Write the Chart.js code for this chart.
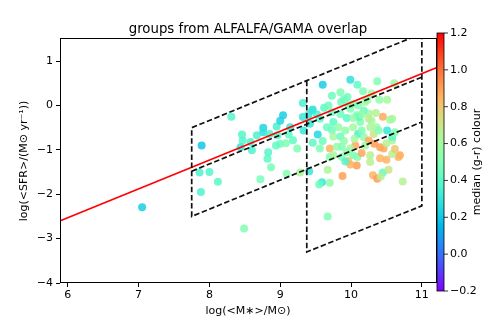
<!DOCTYPE html>
<html><head><meta charset="utf-8">
<script src="https://cdn.jsdelivr.net/npm/chart.js@4.4.1/dist/chart.umd.min.js"></script>
<style>html,body{margin:0;padding:0;background:#fff;overflow:hidden}#wrap{position:relative;width:485px;height:323px}canvas{display:block}</style>
</head><body><div id="wrap"><canvas id="c" width="485" height="323" style="width:485px;height:323px"></canvas></div>
<script>
// ---- data ----
const massX = [7.05,7.89,7.86,8.00,8.12,7.88,8.31,8.46,8.47,8.44,8.60,8.67,8.76,8.76,8.85,8.83,8.82,8.87,8.72,8.95,8.96,9.00,9.04,9.00,8.94,9.08,9.12,9.09,9.24,9.28,9.32,9.32,8.49,9.14,
9.60,9.99,10.09,10.37,10.61,9.73,10.17,10.29,9.86,9.95,10.40,10.51,10.58,10.45,10.35,10.25,10.18,10.08,9.99,10.03,10.10,9.85,9.94,9.73,9.75,9.56,9.45,9.42,9.53,9.33,9.73,9.82,9.92,10.03,10.10,10.06,9.99,10.18,10.25,10.33,10.41,10.46,10.32,10.36,10.51,10.58,10.69,10.67,10.58,10.27,10.41,10.50,10.08,9.87,9.70,9.56,9.46,9.70,9.80,9.87,9.94,10.09,10.03,10.15,9.96,9.99,9.92,9.88,9.75,10.31,10.37,10.45,10.42,10.53,10.73,10.27,9.41,9.67,9.59,9.55,9.70,9.67,9.62,9.52,9.40,9.46,9.66,10.13,10.15,10.27,10.39,10.58,10.55,9.75,10.20,10.29,10.11,9.90,10.62,
9.96,10.23,10.03,9.85,9.90,10.20,10.50,10.62,9.60,10.15,10.25,10.05,9.68,9.85,8.58,9.18];
const sfrY = [-2.29,-0.90,-1.51,-1.50,-1.72,-1.95,-0.25,-0.65,-0.79,-0.94,-1.01,-0.67,-0.50,-0.60,-0.64,-1.05,-1.20,-1.39,-1.66,-0.47,-0.67,-0.34,-0.22,-0.86,-0.90,-0.85,-0.65,-1.54,-0.97,-1.51,-0.26,0.06,-2.77,-0.49,
0.47,0.58,0.47,0.55,0.50,0.22,0.32,0.27,0.08,0.19,0.13,0.13,-0.30,-0.25,-0.17,-0.18,-0.11,-0.22,-0.07,0.04,0.00,-0.19,-0.28,-0.15,-0.37,-0.30,-0.11,-0.41,-0.65,-0.56,-0.55,-0.49,-0.56,-0.49,-0.64,-0.90,-0.97,-0.71,-0.79,-0.86,-0.94,-0.97,-0.64,-0.49,-0.56,-0.79,-1.12,-1.16,-1.09,-1.12,-1.19,-1.22,-1.35,-1.16,-1.16,-0.97,-0.84,-0.97,-0.93,-0.93,-1.05,-1.16,-1.12,-1.07,-1.25,-1.33,-1.26,-1.59,-1.12,-1.57,-1.65,-1.51,-1.60,-1.45,-1.71,-1.27,-1.48,-1.45,-1.73,-1.78,-1.74,-2.50,-0.05,-0.20,-0.21,-0.09,-0.49,-0.37,-0.56,-0.49,-0.56,-0.71,-0.32,-0.70,0.08,-0.34,-0.26,0.14,-0.98,
0.02,0.13,-0.28,-0.70,-0.80,-0.90,-0.85,-0.60,-0.80,-0.20,-0.30,-0.75,0.00,0.30,-0.82,-0.78];
const colourV = [0.22,0.20,0.36,0.38,0.40,0.36,0.38,0.38,0.38,0.30,0.36,0.36,0.24,0.28,0.36,0.38,0.40,0.48,0.48,0.35,0.38,0.24,0.22,0.45,0.42,0.50,0.42,0.52,0.50,0.62,0.30,0.35,0.50,0.30,
0.22,0.28,0.42,0.50,0.55,0.45,0.50,0.60,0.45,0.45,0.55,0.60,0.60,0.88,0.65,0.60,0.45,0.50,0.50,0.55,0.50,0.45,0.40,0.45,0.40,0.40,0.30,0.30,0.25,0.30,0.45,0.55,0.55,0.60,0.35,0.88,0.60,0.55,0.88,0.90,0.90,0.88,0.70,0.60,0.30,0.60,0.88,0.85,0.65,0.65,0.85,0.85,0.90,0.50,0.50,0.50,0.40,0.85,0.55,0.50,0.55,0.50,0.50,0.88,0.80,0.85,0.38,0.90,0.60,0.85,0.90,0.42,0.65,0.70,0.65,0.65,0.30,0.62,0.30,0.45,0.55,0.50,0.40,0.35,0.30,0.30,0.45,0.50,0.50,0.62,0.50,0.40,0.60,0.60,0.60,0.60,0.40,0.45,0.80,
0.50,0.55,0.55,0.45,0.55,0.60,0.65,0.50,0.45,0.55,0.65,0.60,0.45,0.50,0.36,0.42];

// red relation line end points
const fitX = [5.80, 11.30];
const fitY = [-2.66, 0.915];
// dashed selection boxes (corner points)
const boxAX = [11.00, 7.75, 7.75, 11.00];
const boxAY = [1.625, -0.50, -2.50, -0.37];
const midX = [7.75, 11.00];
const midY = [-1.48, 0.64];
const boxBX = [9.375, 9.375, 11.00, 11.00];
const boxBY = [0.56, -3.30, -2.26, 1.625];

const xTicks = [6, 7, 8, 9, 10, 11];
const yTicks = [-4, -3, -2, -1, 0, 1];
const cbTicks = [-0.2, 0.0, 0.2, 0.4, 0.6, 0.8, 1.0, 1.2];
const cbMin = -0.2, cbMax = 1.2;
const titleText = 'groups from ALFALFA/GAMA overlap';
const xLabel = 'log(<M\u2217>/M\u2299)';
const yLabel = 'log(<SFR>/(M\u2299 yr\u207B\u00B9))';
const cbLabel = 'median (g-r) colour';

// ---- helpers ----
function rainbow(t, a) {
  t = Math.max(0, Math.min(1, t));
  const r = Math.min(1, Math.abs(2 * t - 0.5));
  const g = Math.sin(Math.PI * t);
  const b = Math.cos(Math.PI * t / 2);
  return `rgba(${Math.round(r*255)},${Math.round(g*255)},${Math.round(b*255)},${a})`;
}
const norm = v => (v - cbMin) / (cbMax - cbMin);
const fmt = v => String(v).replace('-', '\u2212');
const pts = (xs, ys) => xs.map((x, i) => ({x, y: ys[i]}));

const FONT = "'DejaVu Sans', sans-serif";
Chart.defaults.font.family = FONT;
Chart.defaults.font.size = 11;
Chart.defaults.color = '#000';

const dashStyle = {showLine: true, pointRadius: 0, borderColor: '#111', borderWidth: 1.7, borderDash: [5.5, 2.6], fill: false, order: 0, tension: 0};

const overlay = {
  id: 'overlay',
  afterDraw(chart) {
    const {ctx, chartArea: a} = chart;
    ctx.save();
    // frame
    ctx.strokeStyle = '#000'; ctx.lineWidth = 1;
    ctx.strokeRect(Math.round(a.left) + 0.5, Math.round(a.top) - 0.5, Math.round(a.right - a.left), Math.round(a.bottom - a.top));
    // title
    ctx.fillStyle = '#000';
    ctx.font = `13.3px ${FONT}`;
    ctx.textAlign = 'center'; ctx.textBaseline = 'alphabetic';
    ctx.fillText(titleText, (a.left + a.right) / 2, a.top - 6);
    // colorbar
    const x0 = a.right + 1, w = 7, top = a.top - 6, bot = a.bottom + 8;
    const grad = ctx.createLinearGradient(0, bot, 0, top);
    for (let i = 0; i <= 40; i++) grad.addColorStop(i / 40, rainbow(i / 40, 1));
    ctx.fillStyle = grad;
    ctx.fillRect(x0, top, w, bot - top);
    ctx.strokeStyle = '#000'; ctx.lineWidth = 0.8;
    ctx.strokeRect(x0, top, w, bot - top);
    ctx.font = `11px ${FONT}`;
    ctx.textAlign = 'left'; ctx.textBaseline = 'middle';
    ctx.fillStyle = '#000';
    cbTicks.forEach(v => {
      const y = bot - norm(v) * (bot - top);
      ctx.beginPath(); ctx.moveTo(x0 + w, y); ctx.lineTo(x0 + w + 4, y); ctx.stroke();
      ctx.fillText(fmt(v.toFixed(1)), x0 + w + 6, y);
    });
    ctx.translate(477, (top + bot) / 2);
    ctx.rotate(-Math.PI / 2);
    ctx.textAlign = 'center';
    ctx.fillText(cbLabel, 0, 0);
    ctx.restore();
  }
};

new Chart(document.getElementById('c'), {
  type: 'scatter',
  data: {
    datasets: [
      {data: pts(fitX, fitY), showLine: true, pointRadius: 0, borderColor: '#ff0000', borderWidth: 1.6, order: 1},
      Object.assign({data: pts(boxAX, boxAY)}, dashStyle),
      Object.assign({data: pts(midX, midY)}, dashStyle),
      Object.assign({data: pts(boxBX, boxBY)}, dashStyle),
      {data: pts(massX, sfrY), pointRadius: 4, pointHoverRadius: 4, borderWidth: 0,
       backgroundColor: colourV.map(v => rainbow(norm(v), 0.85)), order: 5}
    ]
  },
  options: {
    responsive: false, animation: false, devicePixelRatio: 1,
    layout: {padding: {top: 39, right: 49, bottom: 0, left: 0}},
    plugins: {legend: {display: false}, tooltip: {enabled: false}, title: {display: false}},
    scales: {
      x: {
        type: 'linear', min: 5.89, max: 11.2,
        afterFit: s => { s.height = 40; },
        afterBuildTicks: s => { s.ticks = xTicks.map(v => ({value: v})); },
        ticks: {callback: v => fmt(v), padding: 2, maxRotation: 0, font: {size: 11}},
        grid: {display: true, drawOnChartArea: false, drawTicks: true, tickLength: 4, color: '#000'},
        border: {display: false},
        title: {display: true, text: xLabel, font: {size: 11}, padding: {top: 0, bottom: 5}}
      },
      y: {
        type: 'linear', min: -4, max: 1.5,
        afterFit: s => { s.width = 60; },
        afterBuildTicks: s => { s.ticks = yTicks.map(v => ({value: v})); },
        ticks: {callback: v => fmt(v), padding: 3, font: {size: 11}},
        grid: {display: true, drawOnChartArea: false, drawTicks: true, tickLength: 4, color: '#000'},
        border: {display: false},
        title: {display: true, text: yLabel, font: {size: 11}, padding: {top: 18, bottom: 0}}
      }
    }
  },
  plugins: [overlay]
});
</script></body></html>
